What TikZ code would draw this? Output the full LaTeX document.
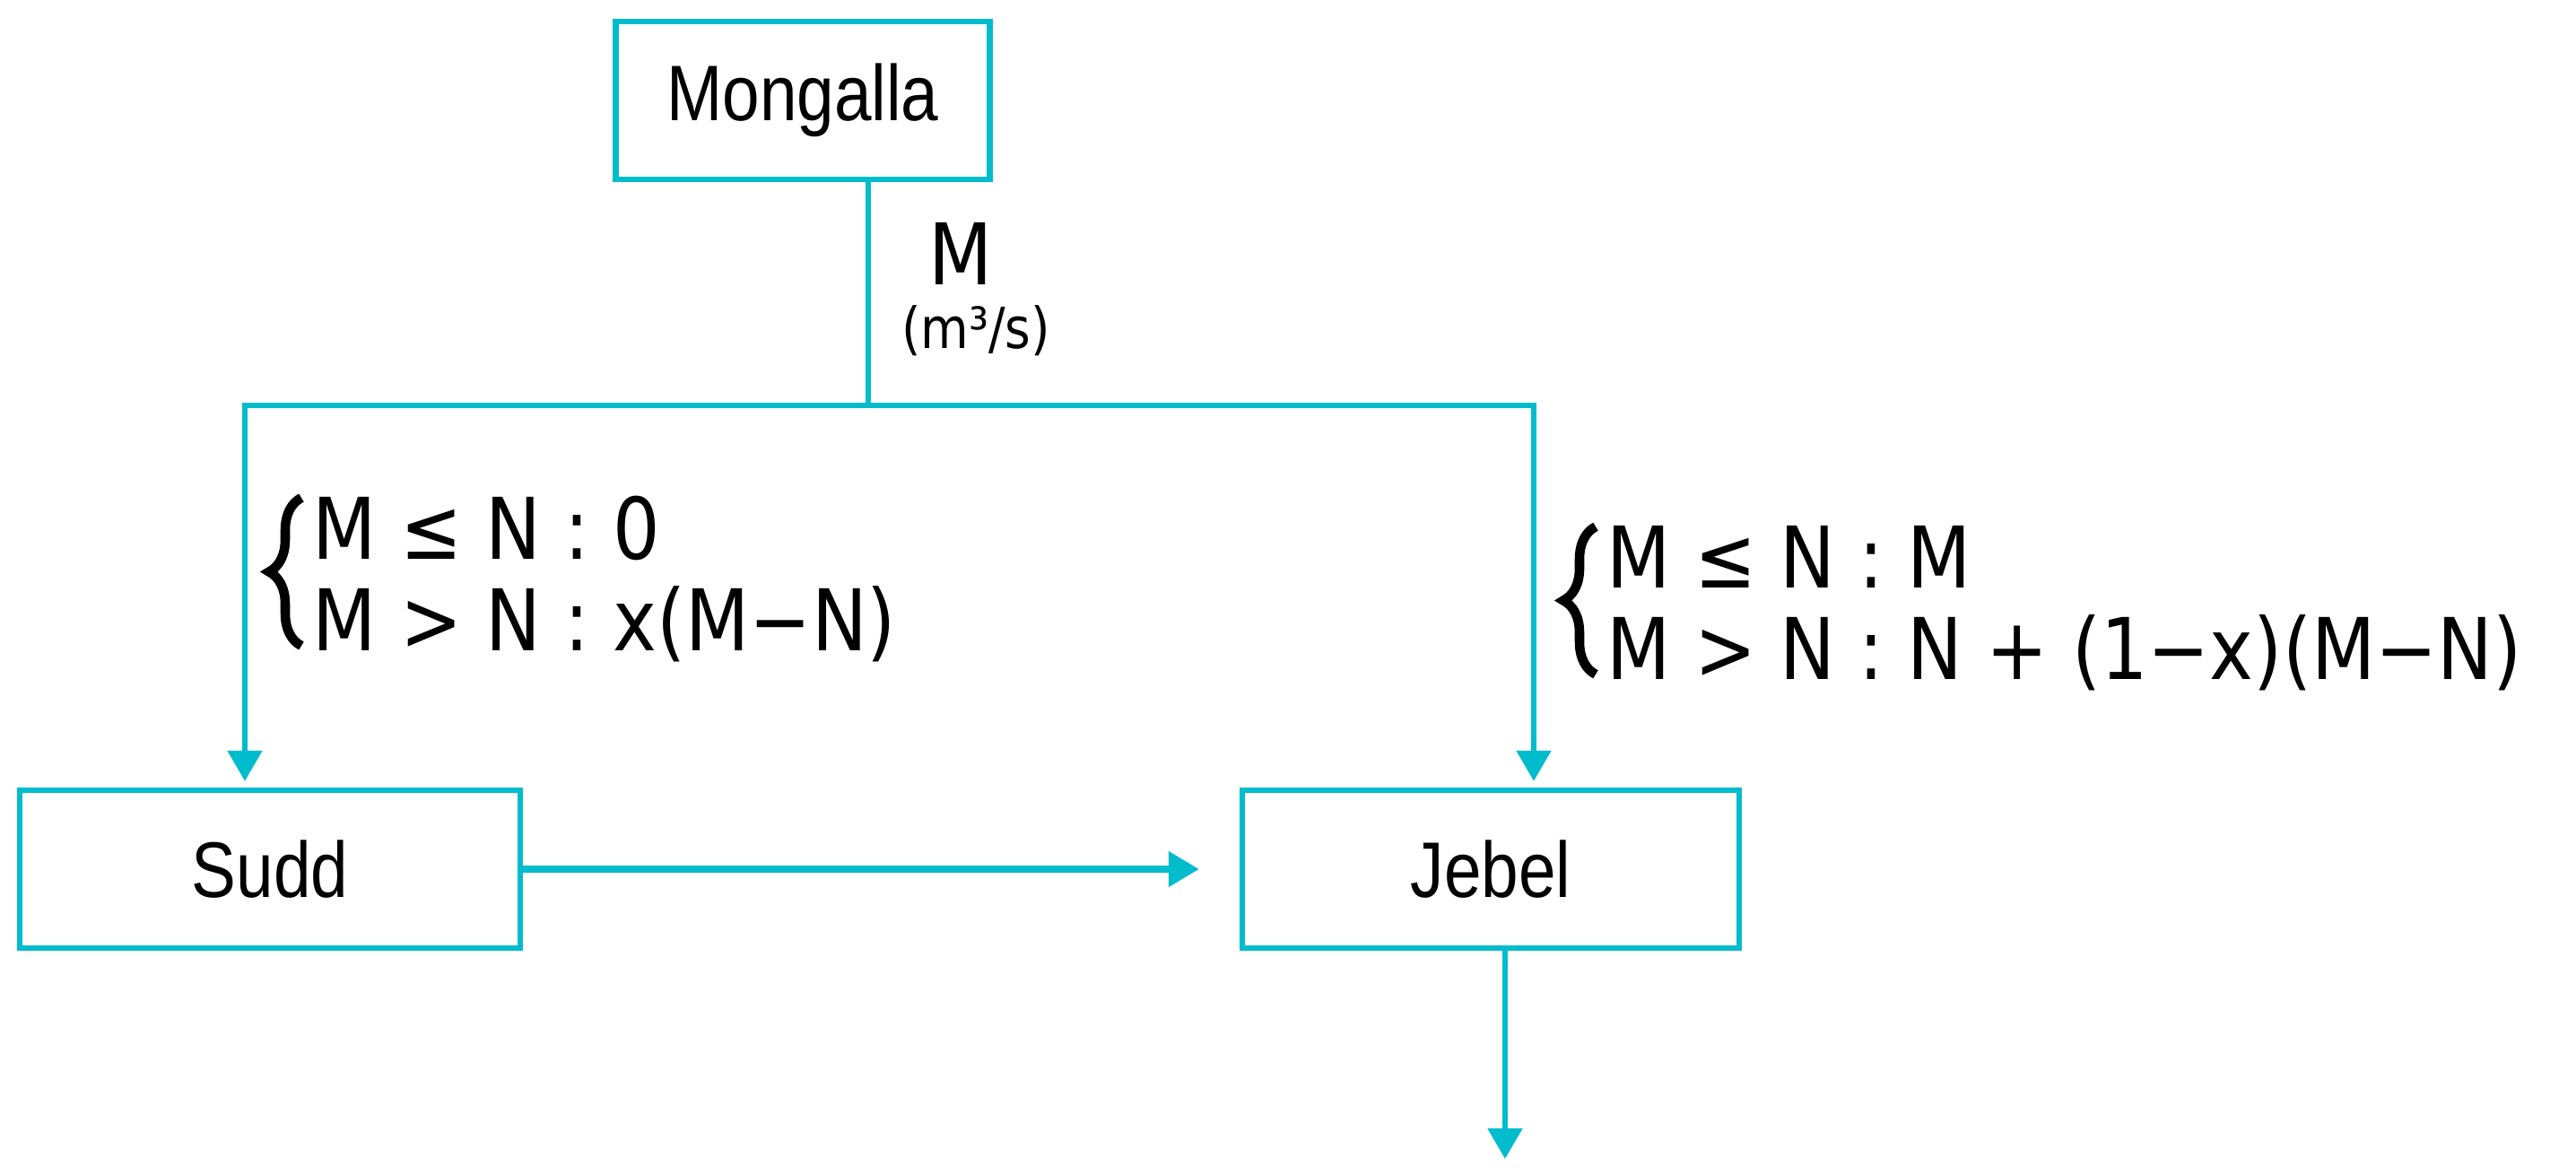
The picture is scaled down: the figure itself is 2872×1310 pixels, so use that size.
\documentclass[tikz,border=0pt]{standalone}
\usepackage{fontspec}
\usepackage{tikz}
\usepackage{xcolor}
\usetikzlibrary{positioning, arrows.meta, decorations.pathreplacing}
\newfontfamily\boxfont[FakeStretch=0.85]{Liberation Sans}
\newfontfamily\condfont[FakeStretch=0.87]{DejaVu Sans}
\definecolor{riverblue}{RGB}{0,188,204}

\begin{document}
\begin{tikzpicture}[
  x=0.1mm, y=-0.1mm,
  box/.style={draw=riverblue, line width=1.8pt, minimum width=4.17cm, minimum height=1.76cm,
    inner sep=0pt, font=\boxfont\fontsize{25}{30}\selectfont},
  flow/.style={draw=riverblue, line width=1.5pt, -{Triangle[length=0.34cm, width=0.38cm]}},
  cond/.style={inner sep=0pt, font=\condfont\fontsize{27}{28.5}\selectfont},
  curly/.style={draw, line width=3pt, decorate, decoration={brace, amplitude=0.36cm}},
]
  \useasboundingbox (0,0) rectangle (2872,1310);

  % Stations
  \node[box] (mongalla) at (895,112) {Mongalla};
  \node[box, minimum width=5.58cm] (sudd) at (301,969) {Sudd};
  \node[box, minimum width=5.54cm] (jebel) at (1662,969) {Jebel};

  % Flow at Mongalla
  \node[cond] (flowlbl) at (1071,283) {M};
  \node[cond, font=\condfont\fontsize{18}{20}\selectfont, below=0.22cm of flowlbl, xshift=0.17cm] (flowunit) {(m³/s)};

  % Split of the flow
  \coordinate (split) at (968,452);
  \coordinate (toleft) at (273,452);
  \coordinate (toright) at (1710,452);
  \draw[riverblue, line width=1.5pt] (mongalla.south -| split) -- (split);
  \draw[flow, shorten >=2pt] (split) -- (toleft) -- (toleft |- sudd.north);
  \draw[flow, shorten >=2pt] (split) -- (toright) -- (toright |- jebel.north);

  \node[cond, anchor=west] (suddcond) at (348,654)
    {\begin{tabular}{@{}l@{}}M ≤ N : 0\\M > N : x(M−N)\end{tabular}};
  \node[cond, anchor=west] (jebelcond) at (1791,686)
    {\begin{tabular}{@{}l@{}}M ≤ N : M\\M > N : N + (1−x)(M−N)\end{tabular}};
  \draw[curly] ([xshift=-0.12cm, yshift=0.36cm]suddcond.south west)
    -- ([xshift=-0.12cm, yshift=-0.03cm]suddcond.north west);
  \draw[curly] ([xshift=-0.12cm, yshift=0.36cm]jebelcond.south west)
    -- ([xshift=-0.12cm, yshift=-0.03cm]jebelcond.north west);

  % Return flow and outflow
  \draw[flow, line width=2.2pt, shorten >=0.45cm] (sudd.east) -- (jebel.west);
  \coordinate (outlet) at (1678,1292);
  \draw[flow] (jebel.south -| outlet) -- (outlet);
\end{tikzpicture}
\end{document}
